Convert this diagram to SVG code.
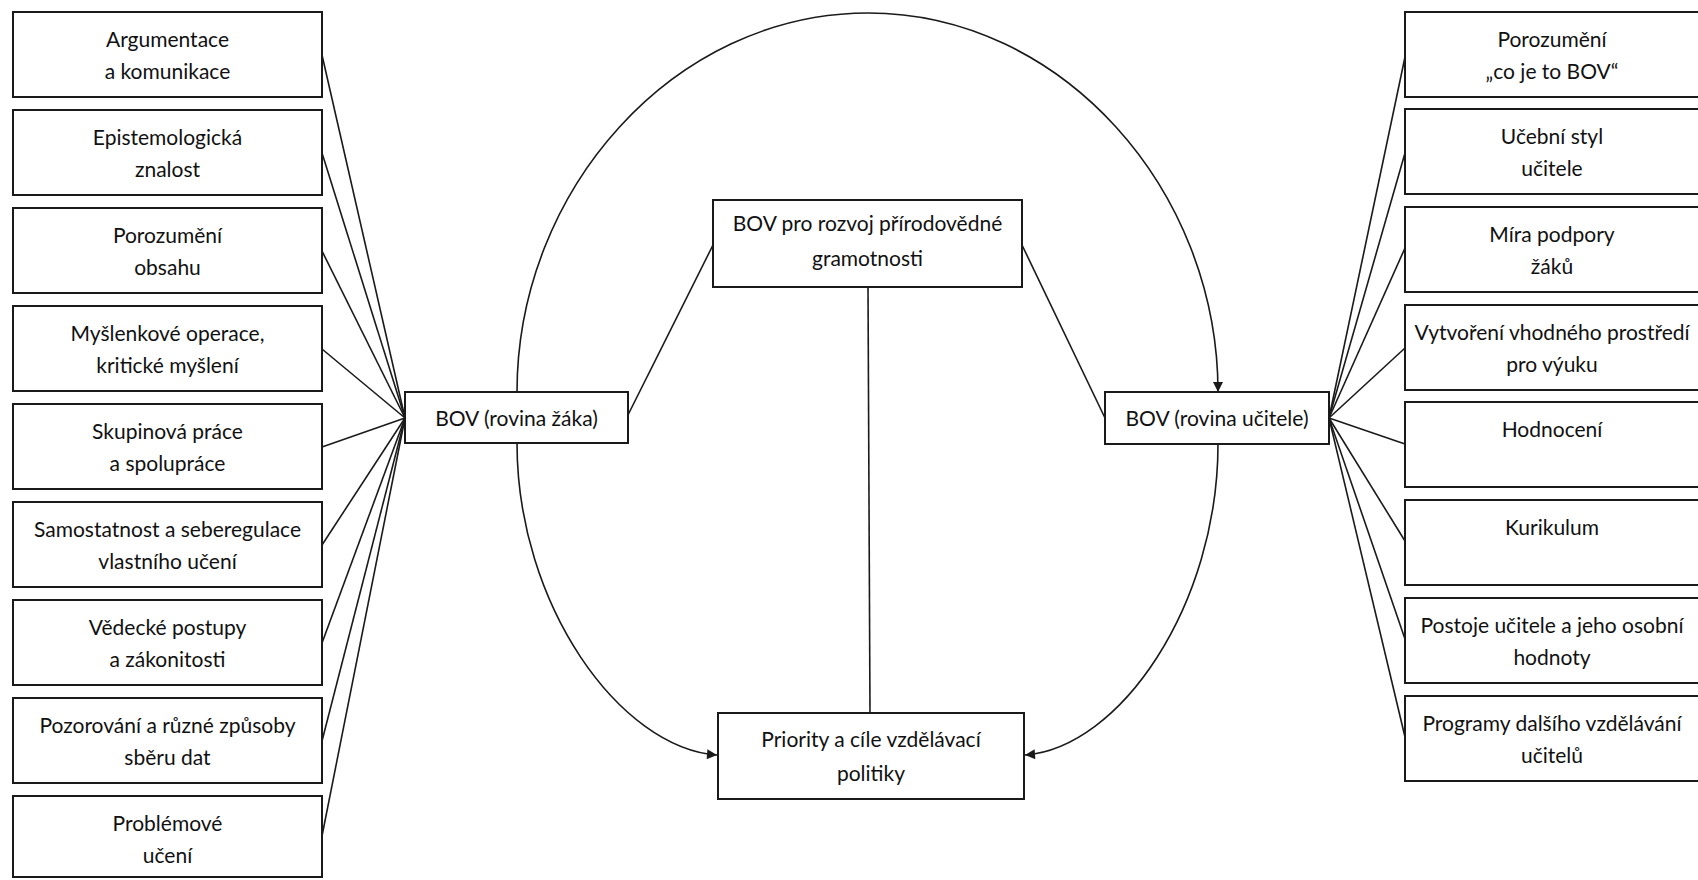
<svg xmlns="http://www.w3.org/2000/svg" width="1698" height="880" viewBox="0 0 1698 880">
<style>
.box{fill:#fff;stroke:#1a1a1a;stroke-width:2}
.t{font-family:Lato,"Open Sans","Liberation Sans",sans-serif;font-size:21px;fill:#111;text-anchor:middle}
.ln{fill:none;stroke:#1a1a1a;stroke-width:1.6}
</style>
<defs>
<marker id="ah" viewBox="0 0 10 10" refX="10" refY="5" markerWidth="12" markerHeight="10" markerUnits="userSpaceOnUse" orient="auto">
<path d="M0,0 L10,5 L0,10 z" fill="#1a1a1a"/>
</marker>
</defs>
<rect width="1698" height="880" fill="#fff"/>
<g id="connectors">
<path class="ln" d="M517,392 C517,190 674,13 868,13 C1062,13 1218,190 1218,392" marker-end="url(#ah)"/>
<path class="ln" d="M517,443 C517,605 620,748 717,755" marker-end="url(#ah)"/>
<path class="ln" d="M1218,444 C1218,605 1120,748 1025,755" marker-end="url(#ah)"/>
<line class="ln" x1="868" y1="287" x2="870" y2="713"/>
<line class="ln" x1="628" y1="415" x2="713" y2="245"/>
<line class="ln" x1="1022" y1="245" x2="1105" y2="418"/>
<line class="ln" x1="322" y1="55" x2="405" y2="418"/>
<line class="ln" x1="322" y1="153" x2="405" y2="418"/>
<line class="ln" x1="322" y1="251" x2="405" y2="418"/>
<line class="ln" x1="322" y1="349" x2="405" y2="418"/>
<line class="ln" x1="322" y1="447" x2="405" y2="418"/>
<line class="ln" x1="322" y1="545" x2="405" y2="418"/>
<line class="ln" x1="322" y1="643" x2="405" y2="418"/>
<line class="ln" x1="322" y1="741" x2="405" y2="418"/>
<line class="ln" x1="322" y1="836" x2="405" y2="418"/>
<line class="ln" x1="1329" y1="418" x2="1405" y2="57"/>
<line class="ln" x1="1329" y1="418" x2="1405" y2="153"/>
<line class="ln" x1="1329" y1="418" x2="1405" y2="248"/>
<line class="ln" x1="1329" y1="418" x2="1405" y2="348"/>
<line class="ln" x1="1329" y1="418" x2="1405" y2="444"/>
<line class="ln" x1="1329" y1="418" x2="1405" y2="541"/>
<line class="ln" x1="1329" y1="418" x2="1405" y2="639"/>
<line class="ln" x1="1329" y1="418" x2="1405" y2="737"/>
</g>
<g id="n-zak"><rect class="box" x="405" y="392" width="223" height="51"/><text class="t" x="516.5" y="426">BOV (rovina žáka)</text></g>
<g id="n-ucitel"><rect class="box" x="1105" y="392" width="224" height="52"/><text class="t" x="1217" y="426">BOV (rovina učitele)</text></g>
<g id="n-top"><rect class="box" x="713" y="200" width="309" height="87"/><text class="t" x="867.5" y="231">BOV pro rozvoj přírodovědné</text><text class="t" x="867.5" y="266">gramotnosti</text></g>
<g id="n-prio"><rect class="box" x="718" y="713" width="306" height="86"/><text class="t" x="871" y="747">Priority a cíle vzdělávací</text><text class="t" x="871" y="781">politiky</text></g>
<g id="l1"><rect class="box" x="13" y="12" width="309" height="85"/><text class="t" x="167.5" y="47">Argumentace</text><text class="t" x="167.5" y="79">a komunikace</text></g>
<g id="l2"><rect class="box" x="13" y="110" width="309" height="85"/><text class="t" x="167.5" y="145">Epistemologická</text><text class="t" x="167.5" y="177">znalost</text></g>
<g id="l3"><rect class="box" x="13" y="208" width="309" height="85"/><text class="t" x="167.5" y="243">Porozumění</text><text class="t" x="167.5" y="275">obsahu</text></g>
<g id="l4"><rect class="box" x="13" y="306" width="309" height="85"/><text class="t" x="167.5" y="341">Myšlenkové operace,</text><text class="t" x="167.5" y="373">kritické myšlení</text></g>
<g id="l5"><rect class="box" x="13" y="404" width="309" height="85"/><text class="t" x="167.5" y="439">Skupinová práce</text><text class="t" x="167.5" y="471">a spolupráce</text></g>
<g id="l6"><rect class="box" x="13" y="502" width="309" height="85"/><text class="t" x="167.5" y="537">Samostatnost a seberegulace</text><text class="t" x="167.5" y="569">vlastního učení</text></g>
<g id="l7"><rect class="box" x="13" y="600" width="309" height="85"/><text class="t" x="167.5" y="635">Vědecké postupy</text><text class="t" x="167.5" y="667">a zákonitosti</text></g>
<g id="l8"><rect class="box" x="13" y="698" width="309" height="85"/><text class="t" x="167.5" y="733">Pozorování a různé způsoby</text><text class="t" x="167.5" y="765">sběru dat</text></g>
<g id="l9"><rect class="box" x="13" y="796" width="309" height="81"/><text class="t" x="167.5" y="831">Problémové</text><text class="t" x="167.5" y="863">učení</text></g>
<g id="r1"><rect class="box" x="1405" y="12" width="300" height="85"/><text class="t" x="1552" y="47">Porozumění</text><text class="t" x="1552" y="79">„co je to BOV“</text></g>
<g id="r2"><rect class="box" x="1405" y="109" width="300" height="85"/><text class="t" x="1552" y="144">Učební styl</text><text class="t" x="1552" y="176">učitele</text></g>
<g id="r3"><rect class="box" x="1405" y="207" width="300" height="85"/><text class="t" x="1552" y="242">Míra podpory</text><text class="t" x="1552" y="274">žáků</text></g>
<g id="r4"><rect class="box" x="1405" y="305" width="300" height="85"/><text class="t" x="1552" y="340">Vytvoření vhodného prostředí</text><text class="t" x="1552" y="372">pro výuku</text></g>
<g id="r5"><rect class="box" x="1405" y="402" width="300" height="85"/><text class="t" x="1552" y="437">Hodnocení</text></g>
<g id="r6"><rect class="box" x="1405" y="500" width="300" height="85"/><text class="t" x="1552" y="535">Kurikulum</text></g>
<g id="r7"><rect class="box" x="1405" y="598" width="300" height="85"/><text class="t" x="1552" y="633">Postoje učitele a jeho osobní</text><text class="t" x="1552" y="665">hodnoty</text></g>
<g id="r8"><rect class="box" x="1405" y="696" width="300" height="85"/><text class="t" x="1552" y="731">Programy dalšího vzdělávání</text><text class="t" x="1552" y="763">učitelů</text></g>
</svg>
